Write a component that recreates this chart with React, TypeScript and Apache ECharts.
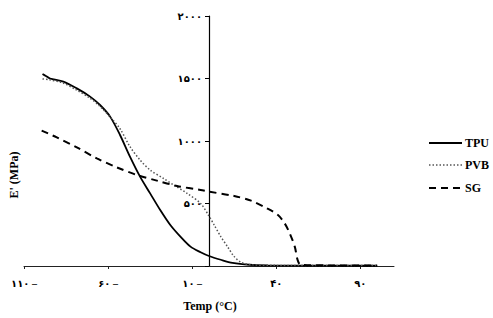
import React, { useEffect, useRef } from "react";
import * as echarts from "echarts";

const seriesNames = ["TPU", "PVB", "SG"];

const tpuTemp = [-99, -97, -94.5, -86.6, -78.6, -70.7, -64.8, -58.8, -52.9, -47, -41, -35, -29, -23, -17, -11, -5, 0, 7, 14, 24, 35, 60, 100];
const tpuModulus = [1536, 1520, 1500, 1475, 1421, 1355, 1288, 1195, 1048, 875, 715, 581, 448, 328, 235, 155, 110, 80, 50, 25, 10, 5, 3, 2];

const pvbTemp = [-99, -95, -87, -79, -71, -65, -59, -53, -47, -41, -35, -27, -21, -13, -5, 0, 3, 7, 11, 15, 19, 25, 40, 100];
const pvbModulus = [1496, 1490, 1465, 1410, 1345, 1280, 1195, 1100, 955, 848, 768, 700, 648, 581, 500, 400, 330, 235, 155, 75, 30, 10, 5, 3];

const sgTemp = [-99.5, -90.5, -78.6, -66.7, -54.8, -42.9, -31, -19, -5, 0, 15, 25, 34.5, 41, 45, 48, 51, 52.7, 54.5, 70, 100];
const sgModulus = [1083, 1029, 949, 861, 789, 728, 683, 640, 608, 595, 560, 523, 461, 408, 341, 261, 155, 48, 10, 5, 3];

const xTickValues = [-110, -60, -10, 40, 90];
const xTickLabels = ["۱۱۰ –", "۶۰ –", "۱۰ –", "۴۰", "۹۰"];
const yTickValues = [0, 500, 1000, 1500, 2000];
const yTickLabels = ["", "۵۰۰", "۱۰۰۰", "۱۵۰۰", "۲۰۰۰"];

const xAxisTitle = "Temp (°C)";
const yAxisTitle = "E' (MPa)";

const zip = (xs: number[], ys: number[]) => xs.map((x, i) => [x, ys[i]]);

const GRID_LEFT = 24;
const GRID_RIGHT = 99;
const W = 493;
const X_MIN = -110;
const X_MAX = 110;

export default function App() {
  const ref = useRef<HTMLDivElement>(null);
  useEffect(() => {
    if (!ref.current) return;
    const chart = echarts.init(ref.current, null, { renderer: "svg" });
    const serif = '"Liberation Serif", "Times New Roman", serif';
    const tickFont = '"Liberation Serif", "DejaVu Sans", serif';
    const gridW = W - GRID_LEFT - GRID_RIGHT;
    const yAxisOffset = -Math.round((gridW * (0 - X_MIN)) / (X_MAX - X_MIN));

    const styles = [
      { color: "#000", width: 1.8, type: "solid" as any, dash: null as any },
      { color: "#555", width: 1.5, type: [1.5, 2], dash: [1.5, 2] },
      { color: "#000", width: 2, type: [7, 5], dash: [7, 5] },
    ];
    const legendY = [143, 165, 188];

    const legendGraphics: any[] = [];
    seriesNames.forEach((name, i) => {
      legendGraphics.push({
        type: "line",
        shape: { x1: 429, y1: legendY[i], x2: 462, y2: legendY[i] },
        style: {
          stroke: styles[i].color,
          lineWidth: styles[i].width,
          lineDash: styles[i].dash || undefined,
        },
      });
      legendGraphics.push({
        type: "text",
        x: 465,
        y: legendY[i],
        style: {
          text: name,
          fill: "#000",
          font: `bold 12px ${serif}`,
          textAlign: "left",
          textVerticalAlign: "middle",
        },
      });
    });

    chart.setOption({
      animation: false,
      backgroundColor: "#fff",
      grid: { left: GRID_LEFT, right: GRID_RIGHT, top: 16, bottom: 52, containLabel: false, outerBoundsMode: "none" },
      xAxis: {
        type: "value",
        min: X_MIN,
        max: X_MAX,
        axisLine: { onZero: false, lineStyle: { color: "#222", width: 1 } },
        axisTick: { show: true, length: 3, customValues: xTickValues, lineStyle: { color: "#222" } },
        splitLine: { show: false },
        axisLabel: {
          customValues: xTickValues,
          margin: 12,
          color: "#000",
          fontSize: 10,
          fontWeight: "bold",
          fontFamily: tickFont,
          formatter: (v: number) => {
            const i = xTickValues.indexOf(v);
            return i >= 0 ? xTickLabels[i] : "";
          },
        },
      },
      yAxis: {
        type: "value",
        min: 0,
        max: 2000,
        interval: 500,
        position: "left",
        offset: yAxisOffset,
        axisLine: { show: true, onZero: false, lineStyle: { color: "#000", width: 1.2 } },
        axisTick: { show: true, length: 4, lineStyle: { color: "#000" } },
        splitLine: { show: false },
        axisLabel: {
          margin: 7,
          color: "#000",
          fontSize: 10,
          fontWeight: "bold",
          fontFamily: tickFont,
          formatter: (v: number) => {
            const i = yTickValues.indexOf(v);
            return i >= 0 ? yTickLabels[i] : "";
          },
        },
      },
      graphic: [
        {
          type: "text",
          x: 14,
          y: 175,
          rotation: Math.PI / 2,
          style: {
            text: yAxisTitle,
            fill: "#000",
            font: `bold 12px ${serif}`,
            textAlign: "center",
            textVerticalAlign: "middle",
          },
        },
        {
          type: "text",
          x: 210,
          y: 306,
          style: {
            text: xAxisTitle,
            fill: "#000",
            font: `bold 12px ${serif}`,
            textAlign: "center",
            textVerticalAlign: "middle",
          },
        },
        ...legendGraphics,
      ],
      series: [
        {
          name: seriesNames[0],
          type: "line",
          data: zip(tpuTemp, tpuModulus),
          smooth: 0.3,
          symbol: "none",
          lineStyle: { color: styles[0].color, width: styles[0].width, type: styles[0].type },
          itemStyle: { color: styles[0].color },
        },
        {
          name: seriesNames[1],
          type: "line",
          data: zip(pvbTemp, pvbModulus),
          smooth: 0.3,
          symbol: "none",
          lineStyle: { color: styles[1].color, width: styles[1].width, type: styles[1].type },
          itemStyle: { color: styles[1].color },
        },
        {
          name: seriesNames[2],
          type: "line",
          data: zip(sgTemp, sgModulus),
          smooth: 0.3,
          symbol: "none",
          lineStyle: { color: styles[2].color, width: styles[2].width, type: styles[2].type },
          itemStyle: { color: styles[2].color },
        },
      ],
    });
    return () => chart.dispose();
  }, []);
  return (
    <div
      ref={ref}
      style={{ position: "fixed", left: 0, top: 0, width: 493, height: 318, background: "#fff" }}
    />
  );
}
